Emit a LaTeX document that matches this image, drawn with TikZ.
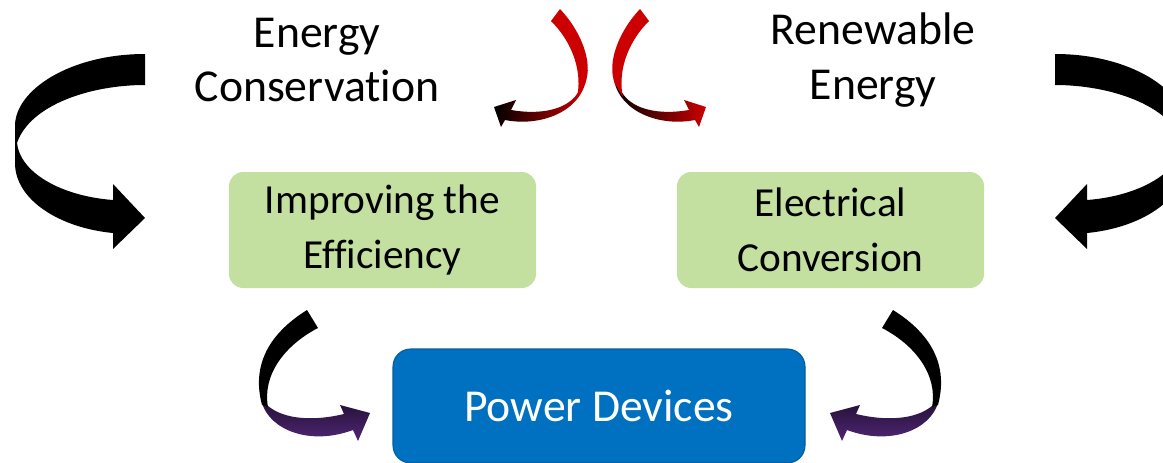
\documentclass[tikz,border=0pt]{standalone}
\usepackage{fontspec}
\setmainfont{Carlito}[Ligatures=NoCommon]
\definecolor{boxgreen}{RGB}{196,224,160}
\definecolor{boxblue}{RGB}{0,112,192}
\definecolor{arrowred}{RGB}{204,0,0}
\definecolor{arrowpurple}{RGB}{84,40,124}
\tikzset{
  topic/.style={align=center, font=\fontsize{26}{31}\selectfont, text=black},
  greenbox/.style={fill=boxgreen, rounded corners=8pt, minimum width=307*0.02cm,
    minimum height=116*0.02cm, align=center,
    font=\fontsize{23.5}{31}\selectfont},
  bluebox/.style={fill=boxblue, draw=boxblue!85!black, line width=0.6pt,
    rounded corners=10pt, minimum width=412*0.02cm, minimum height=114*0.02cm,
    text=white, font=\fontsize{26}{31}\selectfont},
  bigarrow/.style={fill=black},
  redband/.style={fill=arrowred},
  redtail/.style={left color=black, middle color=black, right color=arrowred},
  darkband/.style={fill=black},
  purpletail/.style={top color=arrowpurple!45!black, middle color=arrowpurple!90!black, bottom color=arrowpurple}
}
% large curved arrow on the left (drawn mirrored on the right)
\newcommand{\sweeparrow}{%
  \path[bigarrow] (145,54) .. controls (70,54) and (15,90) .. (15,126)
    -- (15,163) .. controls (15,200) and (60,228) .. (113,233)
    -- (113,249) -- (145,218) -- (113,184) -- (113,200)
    .. controls (60,196) and (20,172) .. (17,143)
    .. controls (30,105) and (90,85) .. (145,85) -- cycle;}
% red ribbon arrow between the two top topics
\newcommand{\ribbonred}{%
  \path[redtail] (586,80) .. controls (580,112) and (540,127) .. (505,120)
    -- (501,127) -- (494,107) -- (516,100) -- (511,110)
    .. controls (540,115) and (566,110) .. (577,94) -- cycle;
  \path[redband] (551,21) -- (560,9) .. controls (580,30) and (594,62) .. (585,84)
    -- (577,97) .. controls (582,75) and (575,45) .. (551,21) -- cycle;}
% ribbon arrow from a green box down to the blue box
\newcommand{\ribbonpurple}{%
  \path[purpletail] (262,403) .. controls (270,430) and (310,446) .. (353,430)
    -- (358,441) -- (370,413) -- (340,405) -- (344,414)
    .. controls (315,421) and (285,420) .. (268,406) -- cycle;
  \path[darkband] (307,310) -- (318,328) .. controls (285,345) and (262,375) .. (268,407)
    -- (262,405) .. controls (250,360) and (275,330) .. (307,310) -- cycle;}

\begin{document}
\begin{tikzpicture}[x=0.02cm, y=-0.02cm]
\useasboundingbox (0,0) rectangle (1163,463);
\begin{scope}
\clip (0,0) rectangle (1163,463);

% topics
\node[topic] (conservation) at (317,60) {Energy\\Conservation};
\node[topic] (renewable) at (873,60) {Renewable\\Energy};

% boxes
\node[greenbox] (efficiency) at (382.5,230) {Improving the\\Efficiency};
\node[greenbox] (conversion) at (830.5,230) {Electrical\\Conversion};
\node[bluebox] (devices) at (599,406) {Power Devices};

% arrows on the left half
\sweeparrow
\ribbonred
\ribbonpurple

% the same arrows mirrored onto the right half
\begin{scope}[shift={(1200,0)}, xscale=-1]
\sweeparrow
\ribbonred
\ribbonpurple
\end{scope}
\end{scope}
\end{tikzpicture}
\end{document}
